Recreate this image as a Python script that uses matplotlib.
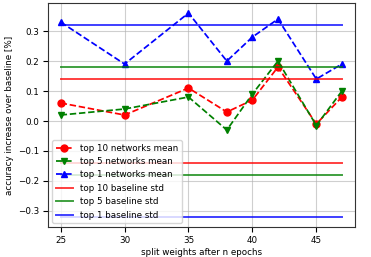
import numpy as np
import matplotlib.pyplot as plt

# split epochs and mean accuracy increase per group
epochs = [25, 30, 35, 38, 40, 42, 45, 47]
top10_mean = [0.06, 0.02, 0.11, 0.03, 0.07, 0.18, -0.01, 0.08]
top5_mean = [0.02, 0.04, 0.08, -0.03, 0.09, 0.20, -0.015, 0.10]
top1_mean = [0.33, 0.19, 0.36, 0.20, 0.28, 0.34, 0.14, 0.19]

# baseline std for each group
top10_std = 0.14
top5_std = 0.18
top1_std = 0.32

plt.rcParams['font.size'] = 6.3
fig = plt.figure(figsize=(3.71, 2.57), dpi=100)
ax = fig.add_axes([0.129, 0.115, 0.827, 0.875])

ax.plot(epochs, top10_mean, 'r--o', markersize=5, linewidth=1.25, label="top 10 networks mean")
ax.plot(epochs, top5_mean, 'g--v', markersize=5, linewidth=1.25, label="top 5 networks mean")
ax.plot(epochs, top1_mean, 'b--^', markersize=5, linewidth=1.25, label="top 1 networks mean")

x0, x1 = epochs[0], epochs[-1]
ax.plot([x0, x1], [top10_std, top10_std], 'r-', alpha=0.75, linewidth=1.4, label="top 10 baseline std")
ax.plot([x0, x1], [top5_std, top5_std], 'g-', alpha=0.75, linewidth=1.4, label="top 5 baseline std")
ax.plot([x0, x1], [top1_std, top1_std], 'b-', alpha=0.75, linewidth=1.4, label="top 1 baseline std")
ax.plot([x0, x1], [-top10_std, -top10_std], 'r-', alpha=0.75, linewidth=1.4)
ax.plot([x0, x1], [-top5_std, -top5_std], 'g-', alpha=0.75, linewidth=1.4)
ax.plot([x0, x1], [-top1_std, -top1_std], 'b-', alpha=0.75, linewidth=1.4)

ax.set_xlim(24.0, 48.0)
ax.set_ylim(-0.355, 0.395)
ax.set_xticks([25, 30, 35, 40, 45])
ax.tick_params(pad=2.5)
ax.set_xlabel("split weights after n epochs", labelpad=2)
ax.set_ylabel("accuracy increase over baseline [%]", labelpad=3)
ax.grid(True, alpha=0.6)
for s in ax.spines.values():
    s.set_color("#333333")
ax.legend(loc="lower left")

fig.savefig("out.png", dpi=100)
